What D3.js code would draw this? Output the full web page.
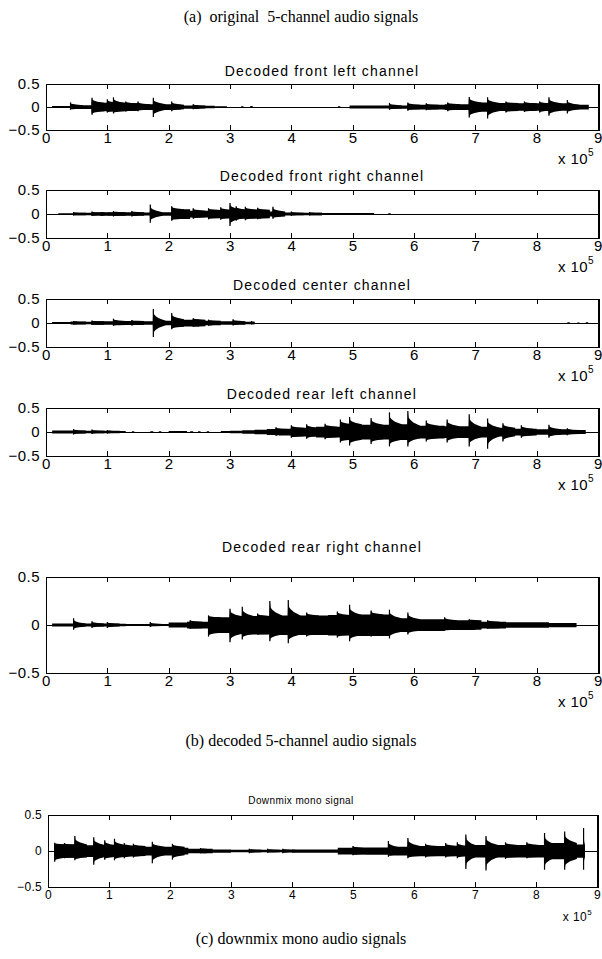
<!DOCTYPE html>
<html>
<head>
<meta charset="utf-8">
<script src="https://cdn.jsdelivr.net/npm/d3@7"></script>
<style>
  body { margin: 0; background: #fff; }
  svg { display: block; }
  .caption { font-family: "Liberation Serif", "Times New Roman", serif; font-size: 16px; white-space: pre; }
  .ptitle { font-family: "Liberation Sans", Arial, sans-serif; font-size: 14px; letter-spacing: 1.2px; }
  .axis text { font-family: "Liberation Sans", Arial, sans-serif; font-size: 15px; letter-spacing: 0.5px; fill: #000; }
  .small .axis text { font-size: 12px; letter-spacing: 0.3px; }
  .small .ptitle { font-size: 10px; letter-spacing: 0.4px; }
</style>
</head>
<body>
<svg width="602" height="959"></svg>
<script>
const w = 602;
const h = 959;

// x ticks (units of 1e5 samples) and y ticks
const xTicks = [0, 1, 2, 3, 4, 5, 6, 7, 8, 9];
const yTicks = [-0.5, 0, 0.5];

const captions = ['(a)  original  5-channel audio signals', '(b) decoded 5-channel audio signals', '(c) downmix mono audio signals'];
const titles = ['Decoded front left channel', 'Decoded front right channel', 'Decoded center channel',
  'Decoded rear left channel', 'Decoded rear right channel', 'Downmix mono signal'];

// body envelope: [start (x1e5), amplitude] held until next entry
const frontLeftBody = [[0.1,0.02],[0.4,0.04],[0.75,0.09],[1.15,0.08],[1.5,0.06],[2.05,0.05],[2.2,0.035],[2.5,0.025],[2.75,0.015],[2.95,0],
  [3.18,0.015],[3.22,0],[3.33,0.02],[3.37,0],[4.76,0.015],[4.8,0],[4.95,0.03],[5.6,0.035],[5.9,0.05],[6.5,0.06],[6.9,0.1],[7.2,0.085],
  [7.6,0.08],[8.2,0.08],[8.5,0.05],[8.85,0]];
const frontRightBody = [[0.2,0.015],[0.45,0.025],[0.75,0.03],[1.0,0.035],[1.5,0.03],[1.7,0.035],[2.05,0.1],[2.35,0.07],[2.65,0.085],
  [3.0,0.09],[3.5,0.05],[3.8,0.03],[4.0,0.025],[4.5,0.02],[5.35,0],[5.58,0.015],[5.62,0]];
const centerBody = [[0.1,0.02],[0.4,0.03],[0.5,0.025],[0.75,0.035],[1.1,0.04],[1.4,0.04],[1.5,0.035],[1.75,0.045],[2.05,0.08],[2.1,0.07],
  [2.5,0.045],[2.7,0.035],[3.1,0.025],[3.4,0],[8.5,0.015],[8.54,0],[8.66,0.01],[8.7,0],[8.8,0.015],[8.84,0]];
const rearLeftBody = [[0.1,0.03],[0.5,0.025],[1.05,0.02],[1.3,0],[1.4,0.015],[1.44,0],[1.7,0.015],[1.75,0],[1.84,0.015],[1.88,0],[2.0,0.02],
  [2.3,0],[2.35,0.015],[2.4,0],[2.48,0.015],[2.52,0],[2.62,0.015],[2.66,0],[2.85,0.02],[3.0,0.025],[3.2,0.035],[3.4,0.045],[3.6,0.06],
  [3.8,0.07],[4.0,0.09],[4.4,0.11],[4.8,0.16],[5.0,0.15],[5.6,0.16],[5.9,0.13],[6.5,0.12],[6.9,0.11],[7.2,0.09],[7.6,0.07],[8.0,0.055],
  [8.5,0.04],[8.8,0]];
const rearRightBody = [[0.1,0.015],[0.5,0.02],[0.6,0.015],[1.1,0.012],[1.3,0.01],[2.0,0.025],[2.3,0.035],[2.65,0.08],[3.0,0.09],[3.3,0.095],
  [3.65,0.1],[4.0,0.1],[4.6,0.105],[5.0,0.11],[5.6,0.07],[5.9,0.06],[6.5,0.05],[7.0,0.035],[7.5,0.028],[8.2,0.022],[8.65,0]];
const downmixBody = [[0.1,0.09],[0.45,0.08],[1.1,0.07],[1.5,0.06],[2.05,0.045],[2.3,0.03],[2.6,0.022],[3.0,0.018],[4.0,0.022],[4.75,0.045],
  [5.2,0.05],[5.6,0.06],[5.9,0.07],[6.9,0.085],[8.2,0.11],[8.5,0.09],[8.8,0]];

// onsets: [position, peak above zero, peak below zero]
const frontLeftSpikes = [[0.4,0.1,0.06],[0.75,0.2,0.17],[1.0,0.17,0.12],[1.1,0.21,0.14],[1.3,0.12,0.1],[1.5,0.12,0.09],[1.75,0.2,0.22],
  [2.05,0.12,0.09],[2.4,0.06,0.05],[5.6,0.09,0.06],[5.9,0.1,0.08],[6.2,0.08,0.07],[6.55,0.1,0.09],[6.9,0.22,0.23],[7.2,0.21,0.25],
  [7.5,0.12,0.12],[7.8,0.12,0.11],[8.05,0.12,0.12],[8.2,0.21,0.19],[8.5,0.15,0.14]];
const frontRightSpikes = [[0.45,0.04,0.03],[0.75,0.05,0.04],[0.9,0.04,0.04],[1.1,0.06,0.05],[1.4,0.06,0.05],[1.7,0.2,0.18],[2.05,0.16,0.14],
  [2.4,0.12,0.1],[2.65,0.12,0.11],[2.85,0.14,0.12],[3.0,0.23,0.25],[3.1,0.16,0.14],[3.25,0.15,0.13],[3.45,0.13,0.11],[3.7,0.15,0.1],
  [4.0,0.05,0.04],[4.3,0.04,0.03]];
const centerSpikes = [[0.45,0.04,0.03],[0.75,0.05,0.04],[1.1,0.09,0.06],[1.4,0.06,0.05],[1.75,0.29,0.29],[2.05,0.21,0.13],[2.4,0.1,0.08],
  [2.65,0.07,0.06],[3.05,0.08,0.05],[3.35,0.04,0.03]];
const rearLeftSpikes = [[0.45,0.06,0.05],[0.75,0.05,0.04],[1.0,0.04,0.03],[3.75,0.1,0.08],[4.0,0.14,0.12],[4.25,0.16,0.14],[4.55,0.17,0.15],
  [4.8,0.26,0.22],[4.95,0.31,0.28],[5.3,0.29,0.25],[5.6,0.41,0.3],[5.9,0.44,0.3],[6.2,0.24,0.2],[6.54,0.26,0.22],[6.9,0.37,0.3],
  [7.2,0.28,0.35],[7.45,0.18,0.2],[7.75,0.14,0.12],[8.2,0.15,0.12],[8.5,0.08,0.07]];
const rearRightSpikes = [[0.45,0.07,0.05],[0.75,0.04,0.03],[1.0,0.03,0.03],[1.7,0.03,0.02],[2.35,0.05,0.04],[2.65,0.1,0.12],[3.0,0.17,0.18],
  [3.2,0.19,0.15],[3.45,0.12,0.1],[3.65,0.25,0.17],[3.95,0.26,0.19],[4.25,0.13,0.12],[4.75,0.14,0.13],[4.95,0.21,0.17],[5.3,0.15,0.12],
  [5.6,0.16,0.14],[5.9,0.13,0.1],[6.5,0.08,0.06],[6.9,0.06,0.05],[7.2,0.05,0.04]];
const downmixSpikes = [[0.11,0.115,0.15],[0.27,0.11,0.1],[0.44,0.21,0.13],[0.75,0.19,0.19],[0.93,0.15,0.12],[1.09,0.17,0.13],[1.25,0.11,0.1],
  [1.4,0.1,0.09],[1.71,0.13,0.17],[2.04,0.1,0.12],[2.5,0.04,0.03],[3.3,0.03,0.03],[3.6,0.03,0.025],[3.85,0.03,0.03],[5.0,0.07,0.06],
  [5.58,0.14,0.08],[5.9,0.18,0.1],[6.19,0.1,0.09],[6.52,0.11,0.09],[6.71,0.12,0.1],[6.85,0.23,0.25],[7.18,0.21,0.27],[7.5,0.12,0.11],
  [7.85,0.12,0.1],[8.14,0.25,0.26],[8.47,0.27,0.26],[8.78,0.32,0.26]];

const bodies = [frontLeftBody, frontRightBody, centerBody, rearLeftBody, rearRightBody, downmixBody];
const spikes = [frontLeftSpikes, frontRightSpikes, centerSpikes, rearLeftSpikes, rearRightSpikes, downmixSpikes];

// layout (pixels)
const panels = [
  { left: 46, right: 598, top: 84, bottom: 130, titleY: 76 },
  { left: 46, right: 598, top: 190, bottom: 238, titleY: 181 },
  { left: 46, right: 598, top: 299, bottom: 347, titleY: 290 },
  { left: 46, right: 598, top: 408, bottom: 456, titleY: 399 },
  { left: 46, right: 598, top: 577, bottom: 673, titleY: 552 },
  { left: 48, right: 597, top: 815, bottom: 887, titleY: 804, titleX: 301, small: true },
];
const captionY = [22, 746, 944];

let canvas = d3.select('svg');

canvas.selectAll('text.caption')
  .data(captions)
  .enter()
  .append('text')
  .attr('class', 'caption')
  .attr('x', 301)
  .attr('y', (d, i) => captionY[i])
  .attr('text-anchor', 'middle')
  .text((d) => d);

// amplitude of the body envelope at position x
const bodyAt = (body, x) => {
  let a = 0;
  body.forEach((e) => { if (e[0] <= x) a = e[1]; });
  return a;
};
// where the signal falls silent after x
const bodyEnd = (body, x) => {
  let e = body.find((d) => d[0] > x && d[1] === 0);
  return e ? e[0] : 9;
};

const drawPanel = (p, i) => {
  let g = canvas.append('g').attr('class', p.small ? 'small' : '');
  let xScale = d3.scaleLinear().domain([0, 9]).range([p.left, p.right]);
  let yScale = d3.scaleLinear().domain([-0.5, 0.5]).range([p.bottom, p.top]);
  let body = bodies[i];

  // zero line through the whole recording
  g.append('line')
    .attr('x1', xScale(0.08)).attr('x2', xScale(8.97))
    .attr('y1', yScale(0)).attr('y2', yScale(0))
    .attr('stroke', '#000').attr('stroke-width', 1).attr('shape-rendering', 'crispEdges');

  // body envelope as stepped area
  let area = d3.area()
    .curve(d3.curveStepAfter)
    .x((d) => xScale(d[0]))
    .y0((d) => yScale(-d[1] * 1.05))
    .y1((d) => yScale(d[1]));
  g.append('path').attr('d', area(body.concat([[9, 0]]))).attr('fill', '#000');

  // onsets: sharp attack then decay back into the body
  let spikeArea = d3.area()
    .x((d) => xScale(d.x))
    .y0((d) => yScale(-d.lo))
    .y1((d) => yScale(d.hi));
  g.selectAll('path.spike')
    .data(spikes[i])
    .enter()
    .append('path')
    .attr('class', 'spike')
    .attr('fill', '#000')
    .attr('d', (s) => {
      let end = Math.min(s[0] + 0.2, bodyEnd(body, s[0]));
      let span = end - s[0];
      let b = bodyAt(body, s[0]);
      let at = (f, k) => ({ x: s[0] + span * f, hi: b + (s[1] - b) * k, lo: b + (s[2] - b) * k });
      let pts = [{ x: s[0] - 0.008, hi: b, lo: b }, at(0, 1), at(0.06, 0.55), at(0.2, 0.4), at(0.45, 0.22), at(1, 0)];
      if (end < s[0] + 0.2) pts.push({ x: end, hi: 0, lo: 0 });
      return spikeArea(pts);
    });
  g.selectAll('line.spike')
    .data(spikes[i])
    .enter()
    .append('line')
    .attr('class', 'spike')
    .attr('x1', (s) => xScale(s[0])).attr('x2', (s) => xScale(s[0]))
    .attr('y1', (s) => yScale(s[1])).attr('y2', (s) => yScale(-s[2]))
    .attr('stroke', '#000').attr('stroke-width', 1.2);

  // axes with inward ticks on all four sides
  let tick = 5;
  g.append('g').attr('class', 'axis')
    .attr('transform', `translate(0,${p.bottom})`)
    .call(d3.axisBottom(xScale).tickValues(xTicks).tickFormat(d3.format('d')).tickSizeInner(-tick).tickSizeOuter(0).tickPadding(p.small ? 3 : 2));
  g.append('g').attr('class', 'axis')
    .attr('transform', `translate(0,${p.top})`)
    .call(d3.axisTop(xScale).tickValues(xTicks).tickFormat('').tickSizeInner(-tick).tickSizeOuter(0));
  g.append('g').attr('class', 'axis')
    .attr('transform', `translate(${p.left},0)`)
    .call(d3.axisLeft(yScale).tickValues(yTicks).tickFormat((d) => (d === 0 ? '0' : d3.format('.1f')(d))).tickSizeInner(-tick).tickSizeOuter(0).tickPadding(6));
  g.append('g').attr('class', 'axis')
    .attr('transform', `translate(${p.right},0)`)
    .call(d3.axisRight(yScale).tickValues(yTicks).tickFormat('').tickSizeInner(-tick).tickSizeOuter(0));
  g.selectAll('.axis path, .axis line').attr('stroke', '#000').attr('shape-rendering', 'crispEdges');
  g.append('line')
    .attr('x1', p.right + 1).attr('x2', p.right + 1)
    .attr('y1', p.top).attr('y2', p.bottom + 1)
    .attr('stroke', '#000').attr('shape-rendering', 'crispEdges');

  g.append('text')
    .attr('class', 'ptitle')
    .attr('x', p.titleX || (p.left + p.right) / 2)
    .attr('y', p.titleY)
    .attr('text-anchor', 'middle')
    .text(titles[i]);

  let ex = g.append('text')
    .attr('class', 'axis')
    .attr('x', p.right - (p.small ? 5 : 4))
    .attr('y', p.bottom + (p.small ? 34 : 34))
    .attr('text-anchor', 'end')
    .style('font-family', '"Liberation Sans", Arial, sans-serif')
    .style('font-size', p.small ? '12px' : '15px')
    .style('letter-spacing', '0.4px');
  ex.append('tspan').text('x 10');
  ex.append('tspan').attr('dy', p.small ? -6 : -8).style('font-size', p.small ? '8px' : '10px').text('5');
};

panels.forEach(drawPanel);
</script>
</body>
</html>
